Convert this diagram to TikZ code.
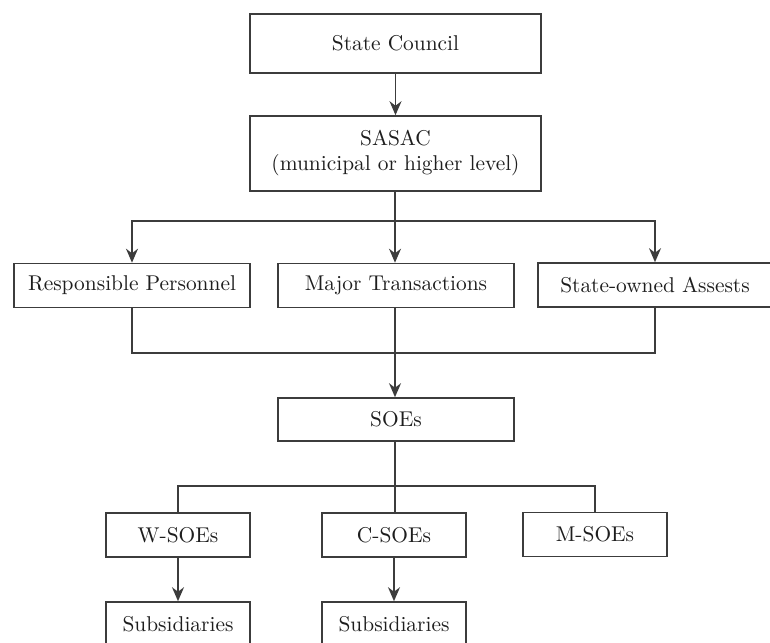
\documentclass[tikz,border=0pt]{standalone}
\usepackage{xcolor}
\usepackage{tikz}
\usetikzlibrary{arrows.meta,positioning,calc}
\definecolor{soeline}{RGB}{60,60,60}
\definecolor{soetext}{RGB}{30,30,30}

\begin{document}
\begin{tikzpicture}[
    x=0.5pt, y=-0.5pt,
    box/.style={rectangle, draw=soeline, line width=0.8pt, text=soetext, align=center, minimum width=118pt, minimum height=22pt, inner sep=0pt, font=\fontsize{10.7}{12.5}\selectfont},
    small/.style={box, minimum width=72pt},
    link/.style={draw=soeline, line width=0.7pt},
    arrow/.style={link, -{Stealth[length=7pt, width=6pt]}}
]
    \useasboundingbox (0,0) rectangle (770,642);
    \clip (0,0) rectangle (770,642);

    % Top
    \node[box, minimum width=145.5pt, minimum height=29.5pt] (council) at (395.5,43.5) {State Council};
    \node[box, minimum width=145.5pt, minimum height=37.5pt] (sasac) at (395.5,153.5) {SASAC\\(municipal or higher level)};

    % Supervised items
    \node[box] (personnel) at (132,285.5) {Responsible Personnel};
    \node[box] (major) at (396,285.5) {Major Transactions};
    \node[box, minimum width=117pt] (assets) at (655,285) {State-owned Assests};

    % SOEs
    \node[box, minimum height=21.5pt] (soes) at (396,419.5) {SOEs};

    % Types of SOEs
    \node[small] (wsoes) at (178,535) {W-SOEs};
    \node[small] (csoes) at (394,535) {C-SOEs};
    \node[small] (msoes) at (595,534.5) {M-SOEs};

    % Subsidiaries
    \node[small] (sub1) at (178,624) {Subsidiaries};
    \node[small] (sub2) at (394,624) {Subsidiaries};

    % Junctions
    \coordinate (split1) at (395,221);
    \coordinate (merge) at (395,353);
    \coordinate (split2) at (395,486);

    % Arrows
    \draw[arrow] (council) -- (sasac);
    \draw[link] (sasac.south -| split1) -- (split1);
    \draw[arrow] (split1) -| (personnel.north);
    \draw[arrow] (split1) -- (major.north -| split1);
    \draw[arrow] (split1) -| (assets.north);
    \draw[link] (personnel.south) |- (merge);
    \draw[link] (assets.south) |- (merge);
    \draw[link] (major.south -| merge) -- (merge);
    \draw[arrow] (merge) -- (soes.north -| merge);
    \draw[link] (soes.south -| split2) -- (split2);
    \draw[link] (split2) -| (wsoes.north);
    \draw[link] (split2) -| (msoes.north);
    \draw[link] (split2) -- (csoes.north -| split2);
    \draw[arrow] (wsoes) -- (sub1);
    \draw[arrow] (csoes) -- (sub2);
\end{tikzpicture}
\end{document}
